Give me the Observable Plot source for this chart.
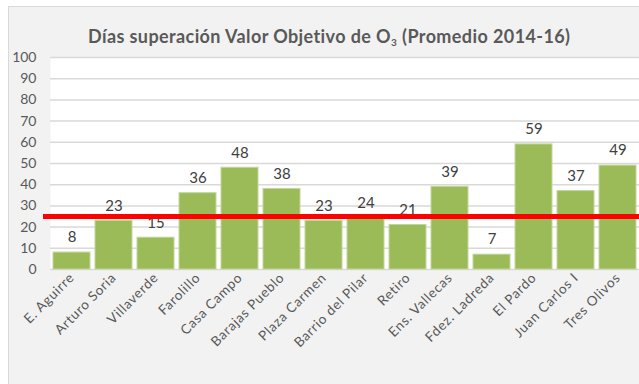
<!DOCTYPE html>
<html>
<head>
<meta charset="utf-8">
<script src="https://cdn.jsdelivr.net/npm/d3@7"></script>
<script src="https://cdn.jsdelivr.net/npm/@observablehq/plot@0.6"></script>
<style>
  html, body { margin: 0; padding: 0; background: #ffffff; }
  #wrap { position: relative; width: 639px; height: 384px; overflow: hidden; font-family: Lato, "DejaVu Sans", sans-serif; }
  #panel { position: absolute; left: 8px; top: 6px; width: 660px; height: 400px; background: #f2f2f2; border: 1.5px solid #d9d9d9; box-sizing: border-box; }
  #title { position: absolute; left: 88px; top: 25px; font-size: 18px; letter-spacing: 0.4px; font-weight: bold; color: #595959; white-space: nowrap; }
  #title sub { font-size: 10px; vertical-align: -3px; }
  #chart { position: absolute; left: 0; top: 0; }
  #chart svg g[aria-label="x-axis tick label"] text { letter-spacing: 0.7px; }
</style>
</head>
<body>
<div id="wrap">
  <div id="panel"></div>
  <div id="title">Días superación Valor Objetivo de O<sub>3</sub> (Promedio 2014-16)</div>
  <div id="chart"></div>
</div>
<script>
// Stations and average number of days above the ozone target value (2014-16)
const stations = ["E. Aguirre", "Arturo Soria", "Villaverde", "Farolillo", "Casa Campo", "Barajas Pueblo", "Plaza Carmen", "Barrio del Pilar", "Retiro", "Ens. Vallecas", "Fdez. Ladreda", "El Pardo", "Juan Carlos I", "Tres Olivos"];
const days = [8, 23, 15, 36, 48, 38, 23, 24, 21, 39, 7, 59, 37, 49];
const targetDays = [25];
const yTicks = [0, 10, 20, 30, 40, 50, 60, 70, 80, 90, 100];

const data = stations.map((s, i) => ({station: s, days: days[i]}));

const chart = Plot.plot({
  width: 639,
  height: 384,
  marginLeft: 50,
  marginRight: 0,
  marginTop: 57,
  marginBottom: 115,
  style: {background: "transparent", fontFamily: "Lato, 'DejaVu Sans', sans-serif", color: "#595959"},
  x: {domain: stations, paddingInner: 0.12, paddingOuter: 0.06, label: null},
  y: {domain: [0, 100], label: null},
  marks: [
    Plot.frame({fill: "white", stroke: null}),
    Plot.ruleY(yTicks, {stroke: "#d9d9d9", strokeWidth: 1.5}),
    Plot.barY(data, {x: "station", y: "days", fill: "#9bbb59", stroke: "#c3d69b", strokeWidth: 1}),
    Plot.text(data, {x: "station", y: "days", text: d => String(d.days), dy: -15, fill: "#404040", fontSize: 15}),
    Plot.ruleY(targetDays, {stroke: "#ff0000", strokeWidth: 5, insetLeft: -7}),
    Plot.axisY({ticks: yTicks, tickSize: 0, tickPadding: 14, fontSize: 14, fill: "#595959", label: null}),
    Plot.axisX({tickSize: 0, tickPadding: 6, tickRotate: -45, fontSize: 13.5, fill: "#595959", label: null})
  ]
});
document.getElementById("chart").appendChild(chart);
</script>
</body>
</html>
